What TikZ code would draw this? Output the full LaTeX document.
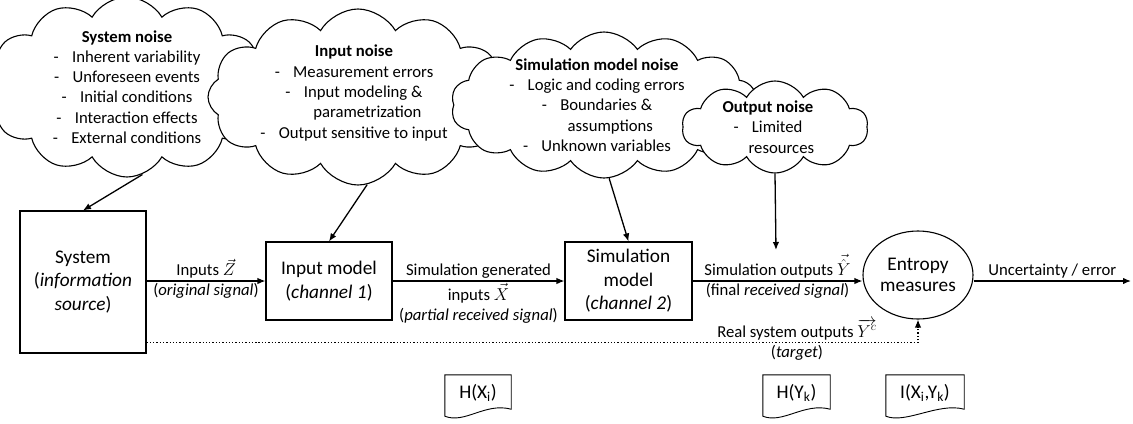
\documentclass[tikz,border=0pt]{standalone}
\usepackage{fontspec}
\setmainfont{Carlito}
\usetikzlibrary{shapes.symbols,shapes.geometric,arrows.meta,calc}

\tikzset{
  noise/.style={cloud, cloud puffs=12, cloud puff arc=120, cloud ignores aspect,
    draw, fill=white, line width=1.1bp, inner sep=0pt},
  noisetext/.style={align=center, inner sep=0pt,
    font=\fontsize{16.7bp}{20.3bp}\selectfont},
  block/.style={draw, line width=1.1bp, align=center, inner sep=0pt,
    font=\fontsize{19.3bp}{23.5bp}\selectfont},
  lbl/.style={align=center, inner sep=2bp,
    font=\fontsize{16.7bp}{20.3bp}\selectfont},
  flow/.style={-{Latex[length=8bp,width=6.5bp]}, line width=1.3bp},
  docnode/.style={minimum height=36bp, inner sep=0pt,
    font=\fontsize{19.3bp}{23.5bp}\selectfont},
}

\begin{document}
\begin{tikzpicture}[x=1bp,y=-1bp]
\useasboundingbox (0,0) rectangle (1133,423);

% noise clouds
\node[noise, minimum width=282bp, minimum height=180bp] (sysc) at (127,87) {};
\node[noisetext] (syst) at (127,87) {\textbf{System noise}\\
  -\hspace{0.8em}Inherent variability\\
  -\hspace{0.8em}Unforeseen events\\
  -\hspace{0.8em}Initial conditions\\
  -\hspace{0.8em}Interaction effects\\
  -\hspace{0.8em}External conditions};

\node[noise, minimum width=300bp, minimum height=176bp] (inpc) at (358,97) {};
\node[noisetext] (inpt) at (354,93) {\textbf{Input noise}\\
  -\hspace{0.8em}Measurement errors\\
  -\hspace{0.8em}Input modeling \&\\
  \hspace*{1.6em}parametrization\\
  -\hspace{0.8em}Output sensitive to input};

\node[noise, cloud puffs=14, cloud puff arc=110, minimum width=306bp, minimum height=146bp] (simc) at (604,105) {};
\node[noisetext] (simt) at (597,105) {\textbf{Simulation model noise}\\
  -\hspace{0.8em}Logic and coding errors\\
  -\hspace{0.8em}Boundaries \&\\
  \hspace*{1.6em}assumptions\\
  -\hspace{0.8em}Unknown variables};

\node[noise, cloud puffs=10, minimum width=186bp, minimum height=92bp] (outc) at (775,127) {};
\node[noisetext] (outt) at (768,127) {\textbf{Output noise}\\
  -\hspace{0.8em}Limited\\
  \hspace*{1.6em}resources};

% main chain
\node[block, minimum width=126bp, minimum height=142bp] (sys) at (83,282) {System\\(\textit{information}\\\textit{source})};
\node[block, minimum width=126bp, minimum height=78bp] (inp) at (329,281) {Input model\\(\textit{channel 1})};
\node[block, minimum width=127bp, minimum height=78bp] (sim) at (628.5,281) {Simulation\\model\\(\textit{channel 2})};
\node[ellipse, draw, line width=1.1bp, minimum width=110bp, minimum height=88bp, inner sep=0pt, align=center,
  font=\fontsize{19.3bp}{21.5bp}\selectfont] (ent) at (918,275) {Entropy\\measures};

\draw[flow] (sys.east |- inp) -- node[lbl, above] {Inputs $\vec{Z}$}
  node[lbl, below] {(\textit{original signal})} (inp.west);
\draw[flow] (inp.east) -- node[lbl, above] {Simulation generated}
  node[lbl, below] {inputs $\vec{X}$\\(\textit{partial received signal})} (sim.west);
\draw[flow] (sim.east) -- node[lbl, above] {Simulation outputs $\vec{\hat{Y}}$}
  node[lbl, below] {(final \textit{received signal})} (sim.east -| ent.west);

\coordinate (uend) at (1131,281);
\draw[flow] (ent.east |- uend) -- node[lbl, above] {Uncertainty / error} (uend);

% target signal
\coordinate (tstart) at ($(sys.south east)+(0,-11)$);
\coordinate (tturn) at (ent.south |- tstart);
\draw[flow, dotted] (tstart) -- node[lbl, above, pos=0.843] {Real system outputs $\overrightarrow{Y^{c}}$}
  node[lbl, below, pos=0.843] {(\textit{target})} (tturn) -- (ent.south);

% noise into the chain
\draw[flow] (sysc.-80) -- (sys.north);
\draw[flow] (inpc.-84) -- (inp.north);
\draw[flow] (simc.-86) -- (sim.north);
\coordinate (oend) at (776,250);
\draw[flow] (outc.south) -- (oend);

% measures
\node[docnode, minimum width=66bp] (hx) at (478,393) {H(X\textsubscript{i})};
\node[docnode, minimum width=67bp] (hy) at (796.5,393) {H(Y\textsubscript{k})};
\node[docnode, minimum width=78bp] (ixy) at (925,393) {I(X\textsubscript{i},Y\textsubscript{k})};
\foreach \d in {hx,hy,ixy}
  \draw[line width=0.9bp] (\d.north west) -- (\d.north east) -- ($(\d.south east)+(0,-2)$)
    .. controls ($(\d.south east)+(-26,-9)$) and ($(\d.south west)+(20,13)$) .. ($(\d.south west)+(0,5)$) -- cycle;

\end{tikzpicture}
\end{document}
